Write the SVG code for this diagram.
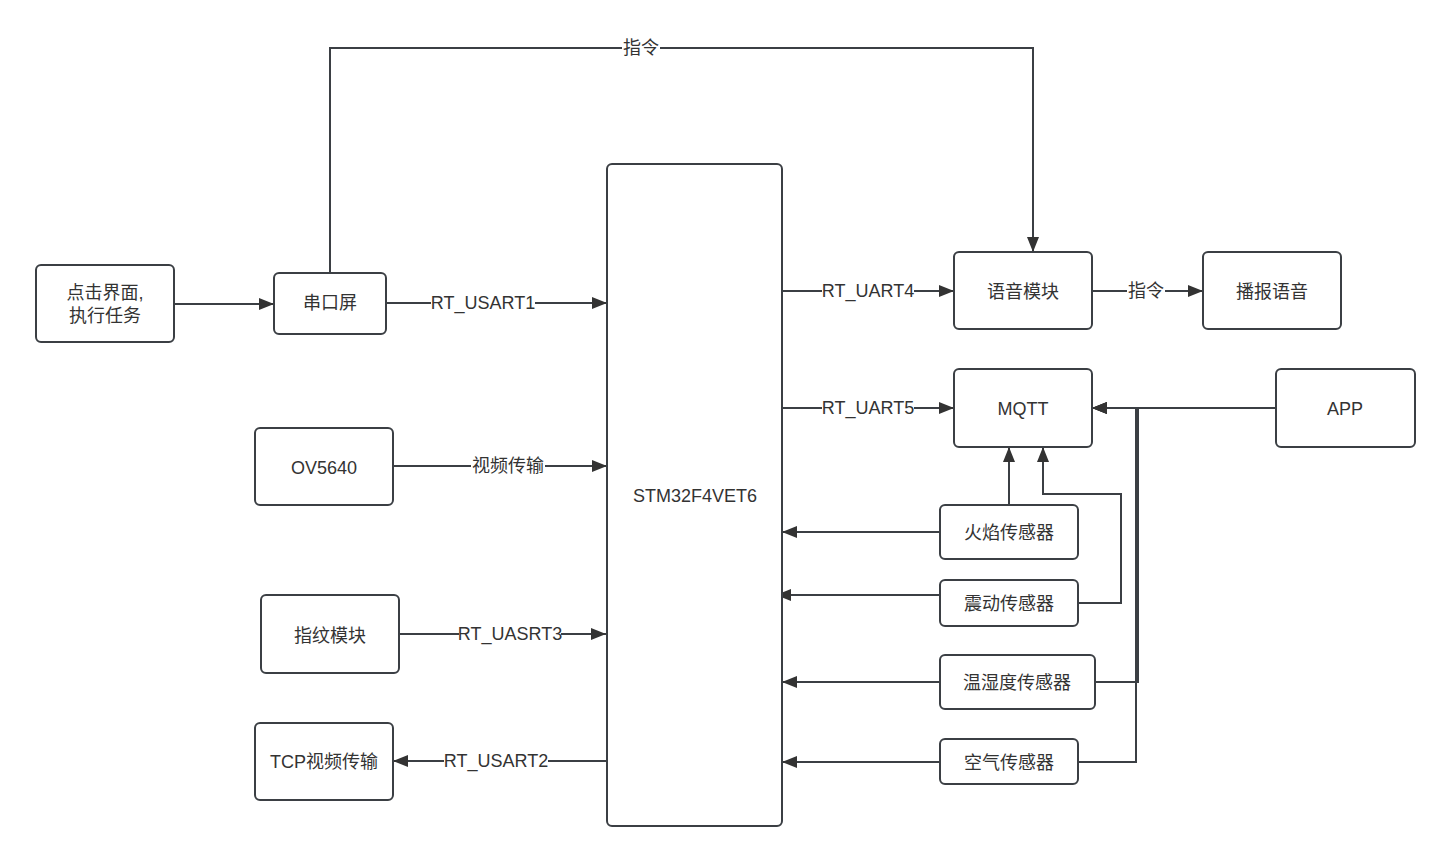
<svg xmlns="http://www.w3.org/2000/svg" width="1451" height="862" viewBox="0 0 1451 862">
<style>
.box{fill:#fff;stroke:#3b3f44;stroke-width:2}
.ln{fill:none;stroke:#3b3f44;stroke-width:2}
.t{font-family:"Liberation Sans","Noto Sans CJK SC",sans-serif;font-size:18px;fill:#333;text-anchor:middle;dominant-baseline:central}
.lb{fill:#fff}
</style>
<defs>
<marker id="ar" markerUnits="userSpaceOnUse" markerWidth="15" markerHeight="12" refX="15" refY="6" orient="auto">
<path d="M0,0 L15,6 L0,12 z" fill="#333"/>
</marker>
</defs>
<rect width="1451" height="862" fill="#fff"/>
<g id="connectors">
<path class="ln" d="M174,304 H274" marker-end="url(#ar)"/>
<path class="ln" d="M330,273 V48 H1033 V252" marker-end="url(#ar)"/>
<path class="ln" d="M386,303 H607" marker-end="url(#ar)"/>
<path class="ln" d="M782,291 H954" marker-end="url(#ar)"/>
<path class="ln" d="M1092,291 H1203" marker-end="url(#ar)"/>
<path class="ln" d="M782,408 H954" marker-end="url(#ar)"/>
<path class="ln" d="M1276,408 H1092" marker-end="url(#ar)"/>
<path class="ln" d="M393,466 H607" marker-end="url(#ar)"/>
<path class="ln" d="M399,634 H606" marker-end="url(#ar)"/>
<path class="ln" d="M607,761 H393" marker-end="url(#ar)"/>
<path class="ln" d="M940,532 H782" marker-end="url(#ar)"/>
<path class="ln" d="M940,595 H776" marker-end="url(#ar)"/>
<path class="ln" d="M940,682 H782" marker-end="url(#ar)"/>
<path class="ln" d="M940,762 H782" marker-end="url(#ar)"/>
<path class="ln" d="M1009,505 V447" marker-end="url(#ar)"/>
<path class="ln" d="M1078,603 H1121 V494 H1043 V447" marker-end="url(#ar)"/>
<path class="ln" d="M1078,762 H1136 V408 H1092" marker-end="url(#ar)"/>
<path class="ln" d="M1095,682 H1138 V408 H1092" marker-end="url(#ar)"/>
<rect class="lb" x="622" y="38" width="38" height="20"/>
<text class="t" x="641" y="48">指令</text>
<rect class="lb" x="431" y="293" width="104" height="20"/>
<text class="t" x="483" y="303">RT_USART1</text>
<rect class="lb" x="822" y="281" width="92" height="20"/>
<text class="t" x="868" y="291">RT_UART4</text>
<rect class="lb" x="1127" y="281" width="38" height="20"/>
<text class="t" x="1146" y="291">指令</text>
<rect class="lb" x="822" y="398" width="92" height="20"/>
<text class="t" x="868" y="408">RT_UART5</text>
<rect class="lb" x="471" y="456" width="74" height="20"/>
<text class="t" x="508" y="466">视频传输</text>
<rect class="lb" x="459" y="624" width="102" height="20"/>
<text class="t" x="510" y="634">RT_UASRT3</text>
<rect class="lb" x="444" y="751" width="104" height="20"/>
<text class="t" x="496" y="761">RT_USART2</text>
</g>
<g id="stm"><rect class="box" x="607" y="164" width="175" height="662" rx="5"/><text class="t" x="695" y="496">STM32F4VET6</text></g>
<g id="click"><rect class="box" x="36" y="265" width="138" height="77" rx="5"/><text class="t" x="105" y="293">点击界面,</text><text class="t" x="105" y="316">执行任务</text></g>
<g id="screen"><rect class="box" x="274" y="273" width="112" height="61" rx="5"/><text class="t" x="330" y="303">串口屏</text></g>
<g id="voice"><rect class="box" x="954" y="252" width="138" height="77" rx="5"/><text class="t" x="1023" y="292">语音模块</text></g>
<g id="broadcast"><rect class="box" x="1203" y="252" width="138" height="77" rx="5"/><text class="t" x="1272" y="292">播报语音</text></g>
<g id="mqtt"><rect class="box" x="954" y="369" width="138" height="78" rx="5"/><text class="t" x="1023" y="409">MQTT</text></g>
<g id="app"><rect class="box" x="1276" y="369" width="139" height="78" rx="5"/><text class="t" x="1345" y="409">APP</text></g>
<g id="ov5640"><rect class="box" x="255" y="428" width="138" height="77" rx="5"/><text class="t" x="324" y="468">OV5640</text></g>
<g id="finger"><rect class="box" x="261" y="595" width="138" height="78" rx="5"/><text class="t" x="330" y="636">指纹模块</text></g>
<g id="tcp"><rect class="box" x="255" y="723" width="138" height="77" rx="5"/><text class="t" x="324" y="762">TCP视频传输</text></g>
<g id="flame"><rect class="box" x="940" y="505" width="138" height="54" rx="5"/><text class="t" x="1009" y="533">火焰传感器</text></g>
<g id="vibration"><rect class="box" x="940" y="580" width="138" height="46" rx="5"/><text class="t" x="1009" y="604">震动传感器</text></g>
<g id="temphum"><rect class="box" x="940" y="655" width="155" height="54" rx="5"/><text class="t" x="1017" y="683">温湿度传感器</text></g>
<g id="air"><rect class="box" x="940" y="739" width="138" height="45" rx="5"/><text class="t" x="1009" y="763">空气传感器</text></g>
</svg>
